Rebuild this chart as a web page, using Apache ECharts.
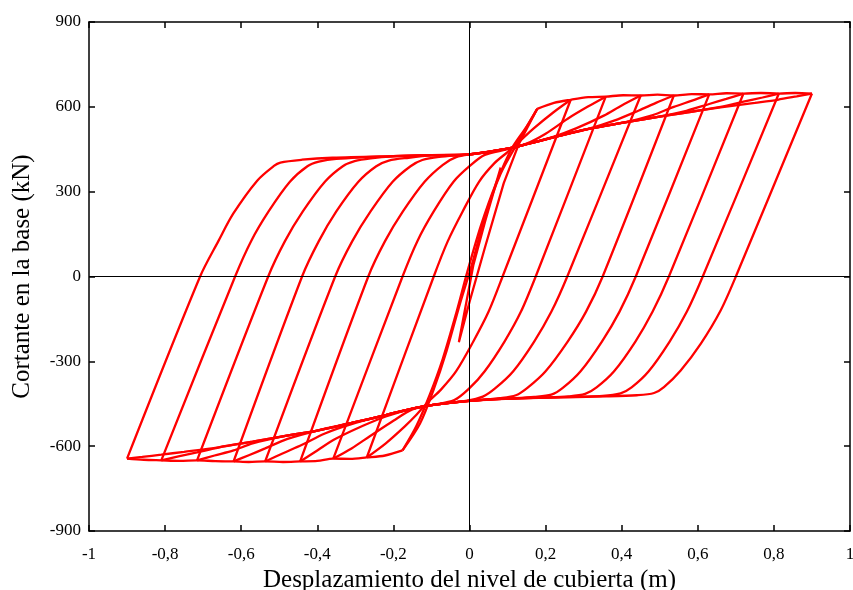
<!DOCTYPE html>
<html>
<head>
<meta charset="utf-8">
<script src="https://cdn.jsdelivr.net/npm/echarts@6/dist/echarts.min.js"></script>
<style>
  html, body { margin: 0; padding: 0; background: #fff; }
  #chart-container { width: 853px; height: 590px; }
</style>
</head>
<body>
<div id="chart-container"></div>
<script>
// tick labels
const xTicks = [-1, -0.8, -0.6, -0.4, -0.2, 0, 0.2, 0.4, 0.6, 0.8, 1];
const yTicks = [-900, -600, -300, 0, 300, 600, 900];

// first small cycle from the origin
const cicloInicial = [
  [0, 0], [0.04, 190], [0.082, 385], [0.05, 240], [0.01, 40], [-0.028, -232],
  [0.0, -90], [0.04, 100], [0.09, 330], [0.13, 470], [0.178, 593]
];

// cycles, [desplazamiento (m), cortante (kN)]: down from +peak, then back up
const ciclo018 = [
  [0.178, 593], [0.125, 469], [0.082, 364], [0.04, 210], [0.008, 50], [-0.025, -96],
  [-0.06, -262], [-0.095, -403], [-0.13, -520], [-0.176, -615],
  [-0.14, -530], [-0.105, -420], [-0.07, -290], [-0.035, -130], [-0.005, 20],
  [0.03, 180], [0.07, 330], [0.11, 450], [0.15, 530], [0.178, 593]
];
const ciclo027 = [
  [0.266, 625], [0.087, 0], [0.05, -125], [0.01, -230], [-0.035, -335], [-0.075, -400],
  [-0.11, -445], [-0.14, -490], [-0.17, -530], [-0.22, -590], [-0.27, -640],
  [-0.094, 0], [-0.057, 125], [-0.018, 230], [0.025, 335], [0.065, 400], [0.1, 440],
  [0.135, 482], [0.168, 523], [0.22, 580], [0.266, 625]
];
const ciclo036 = [
  [0.358, 636], [0.174, 0], [0.135, -125], [0.092, -230], [0.04, -335], [0, -395],
  [-0.04, -437], [-0.1, -455], [-0.15, -470], [-0.2, -510], [-0.262, -565],
  [-0.31, -608], [-0.358, -644],
  [-0.176, 0], [-0.137, 125], [-0.094, 230], [-0.042, 335], [0, 390], [0.04, 430],
  [0.1, 450], [0.15, 470], [0.2, 505], [0.258, 558], [0.31, 600], [0.358, 636]
];
const ciclo045 = [
  [0.45, 640], [0.257, 0], [0.215, -125], [0.17, -230], [0.115, -335], [0.068, -395],
  [0.035, -425], [-0.01, -440], [-0.1, -455], [-0.15, -467], [-0.22, -495],
  [-0.28, -528], [-0.353, -575], [-0.4, -615], [-0.445, -654],
  [-0.266, 0], [-0.222, 125], [-0.175, 230], [-0.118, 335], [-0.07, 395],
  [-0.035, 422], [0.01, 433], [0.1, 452], [0.15, 468], [0.22, 494], [0.28, 524],
  [0.353, 569], [0.4, 605], [0.45, 640]
];
const ciclo054 = [
  [0.537, 640], [0.35, 0], [0.306, -125], [0.258, -230], [0.2, -335], [0.153, -393],
  [0.122, -420], [0.08, -430], [0, -440], [-0.1, -455], [-0.15, -467], [-0.22, -490],
  [-0.31, -522], [-0.38, -555], [-0.44, -595], [-0.49, -625], [-0.537, -654],
  [-0.353, 0], [-0.308, 125], [-0.26, 230], [-0.202, 335], [-0.155, 390],
  [-0.124, 412], [-0.08, 423], [0, 432], [0.1, 452], [0.15, 468], [0.22, 492],
  [0.31, 521], [0.38, 551], [0.445, 587], [0.49, 614], [0.537, 640]
];
const ciclo063 = [
  [0.63, 644], [0.437, 0], [0.394, -125], [0.348, -230], [0.292, -335], [0.246, -393],
  [0.215, -418], [0.17, -426], [0.1, -432], [0, -440], [-0.1, -455], [-0.15, -467],
  [-0.22, -490], [-0.31, -518], [-0.4, -545], [-0.48, -575], [-0.537, -608],
  [-0.58, -632], [-0.62, -654],
  [-0.44, 0], [-0.396, 125], [-0.35, 230], [-0.292, 335], [-0.245, 390],
  [-0.212, 410], [-0.16, 420], [-0.1, 428], [0, 432], [0.1, 452], [0.15, 468],
  [0.22, 492], [0.31, 521], [0.4, 543], [0.48, 570], [0.537, 600], [0.585, 622],
  [0.63, 644]
];
const ciclo072 = [
  [0.72, 647], [0.524, 0], [0.481, -125], [0.436, -230], [0.38, -335], [0.334, -392],
  [0.304, -415], [0.26, -424], [0.2, -428], [0.1, -432], [0, -440], [-0.1, -455],
  [-0.15, -467], [-0.22, -490], [-0.31, -518], [-0.4, -545], [-0.48, -563],
  [-0.57, -590], [-0.62, -615], [-0.67, -633], [-0.716, -650],
  [-0.529, 0], [-0.485, 125], [-0.438, 230], [-0.38, 335], [-0.333, 390],
  [-0.302, 408], [-0.26, 418], [-0.2, 425], [-0.1, 429], [0, 432], [0.1, 452],
  [0.15, 468], [0.22, 492], [0.31, 521], [0.4, 543], [0.48, 561], [0.57, 586],
  [0.63, 610], [0.675, 628], [0.72, 647]
];
const ciclo081 = [
  [0.813, 647], [0.613, 0], [0.571, -125], [0.526, -230], [0.471, -335], [0.426, -392],
  [0.397, -413], [0.35, -422], [0.2, -428], [0.1, -432], [0, -440], [-0.1, -455],
  [-0.15, -467], [-0.22, -490], [-0.31, -518], [-0.4, -545], [-0.48, -563],
  [-0.57, -584], [-0.66, -605], [-0.716, -622], [-0.765, -636], [-0.81, -650],
  [-0.616, 0], [-0.574, 125], [-0.528, 230], [-0.472, 335], [-0.426, 390],
  [-0.396, 406], [-0.35, 416], [-0.2, 426], [-0.1, 429], [0, 432], [0.1, 452],
  [0.15, 468], [0.22, 492], [0.31, 521], [0.4, 543], [0.48, 561], [0.57, 580],
  [0.66, 600], [0.72, 618], [0.77, 633], [0.813, 647]
];
const ciclo090 = [
  [0.9, 647], [0.7, 0], [0.66, -120], [0.608, -237], [0.555, -332], [0.511, -391],
  [0.485, -412], [0.44, -420], [0.36, -424], [0.2, -428], [0.1, -432], [0, -440],
  [-0.1, -455], [-0.15, -467], [-0.22, -490], [-0.31, -518], [-0.4, -545],
  [-0.48, -563], [-0.57, -584], [-0.66, -604], [-0.75, -620], [-0.81, -630],
  [-0.86, -638], [-0.9, -644],
  [-0.708, 0], [-0.66, 125], [-0.621, 222], [-0.558, 339], [-0.515, 390],
  [-0.497, 403], [-0.44, 413], [-0.36, 420], [-0.2, 426], [-0.1, 429], [0, 432],
  [0.1, 452], [0.15, 468], [0.22, 492], [0.31, 521], [0.4, 543], [0.48, 561],
  [0.57, 580], [0.66, 598], [0.75, 614], [0.81, 625], [0.86, 637], [0.9, 647]
];

// peaks joined (first cycle of each amplitude)
const envolventePos = [
  [0.178, 593], [0.222, 614], [0.266, 625], [0.312, 634], [0.358, 636], [0.404, 641],
  [0.45, 640], [0.494, 643], [0.537, 640], [0.584, 645], [0.63, 644], [0.675, 648],
  [0.72, 647], [0.766, 649], [0.813, 647], [0.856, 649], [0.9, 647]
];
const envolventeNeg = [
  [-0.176, -615], [-0.222, -633], [-0.27, -640], [-0.314, -645], [-0.358, -644],
  [-0.4, -652], [-0.445, -654], [-0.49, -656], [-0.537, -654], [-0.58, -656],
  [-0.62, -654], [-0.668, -653], [-0.716, -650], [-0.762, -652], [-0.81, -650],
  [-0.856, -648], [-0.9, -644]
];

const ciclos = [
  ciclo018, ciclo027, ciclo036, ciclo045, ciclo054,
  ciclo063, ciclo072, ciclo081, ciclo090
];

let dom = document.getElementById("chart-container");
let myChart = echarts.init(dom, null, { renderer: "canvas" });

const fontFamily = "Liberation Serif, Times New Roman, serif";
const fmtX = (v) => String(Math.round(v * 10) / 10).replace(".", ",");

const axisLine = { show: true, onZero: false, lineStyle: { color: "#000", width: 1.5 } };
const axisTick = { show: true, inside: true, length: 6, lineStyle: { color: "#000", width: 1.5 } };

function curva(data, smooth) {
  return {
    type: "line",
    data: data,
    showSymbol: false,
    symbol: "none",
    silent: true,
    smooth: smooth,
    lineStyle: { color: "#ff0000", width: 2.3 },
    z: 3,
  };
}

let series = [curva(cicloInicial, false)];
// each cycle is split at its negative peak so the peaks stay sharp
ciclos.forEach((c) => {
  let iMin = 0;
  c.forEach((p, i) => {
    if (p[0] < c[iMin][0]) iMin = i;
  });
  series.push(curva(c.slice(0, iMin + 1), 0.3));
  series.push(curva(c.slice(iMin), 0.3));
});
series.push(curva(envolventePos, 0.3));
series.push(curva(envolventeNeg, 0.3));

// thin lines through the origin
series.push({
  type: "line",
  data: [],
  silent: true,
  markLine: {
    silent: true,
    symbol: "none",
    label: { show: false },
    lineStyle: { color: "#000", width: 1, type: "solid" },
    data: [{ xAxis: 0 }, { yAxis: 0 }],
  },
  z: 2,
});

let option = {
  animation: false,
  backgroundColor: "#fff",
  grid: {
    left: 89,
    right: 3,
    top: 22,
    bottom: 59,
    containLabel: false,
    outerBoundsMode: "none",
  },
  xAxis: [
    {
      type: "value",
      min: xTicks[0],
      max: xTicks[xTicks.length - 1],
      interval: 0.2,
      position: "bottom",
      axisLine: axisLine,
      axisTick: axisTick,
      splitLine: { show: false },
      axisLabel: {
        formatter: fmtX,
        color: "#000",
        fontFamily: fontFamily,
        fontSize: 17,
        margin: 15,
        showMinLabel: true,
        showMaxLabel: true,
      },
      name: "Desplazamiento del nivel de cubierta (m)",
      nameLocation: "middle",
      nameGap: 36,
      nameTextStyle: { color: "#000", fontFamily: fontFamily, fontSize: 25 },
    },
    {
      type: "value",
      min: xTicks[0],
      max: xTicks[xTicks.length - 1],
      interval: 0.2,
      position: "top",
      axisLine: axisLine,
      axisTick: axisTick,
      axisLabel: { show: false },
      splitLine: { show: false },
    },
  ],
  yAxis: [
    {
      type: "value",
      min: yTicks[0],
      max: yTicks[yTicks.length - 1],
      interval: 300,
      position: "left",
      axisLine: axisLine,
      axisTick: axisTick,
      splitLine: { show: false },
      axisLabel: {
        color: "#000",
        fontFamily: fontFamily,
        fontSize: 17,
        margin: 8,
        showMinLabel: true,
        showMaxLabel: true,
      },
      name: "Cortante en la base (kN)",
      nameLocation: "middle",
      nameGap: 54,
      nameTextStyle: { color: "#000", fontFamily: fontFamily, fontSize: 25 },
    },
    {
      type: "value",
      min: yTicks[0],
      max: yTicks[yTicks.length - 1],
      interval: 300,
      position: "right",
      axisLine: axisLine,
      axisTick: axisTick,
      axisLabel: { show: false },
      splitLine: { show: false },
    },
  ],
  series: series,
};

if (option && typeof option === "object") {
  myChart.setOption(option);
}

window.addEventListener("resize", myChart.resize);
</script>
</body>
</html>
